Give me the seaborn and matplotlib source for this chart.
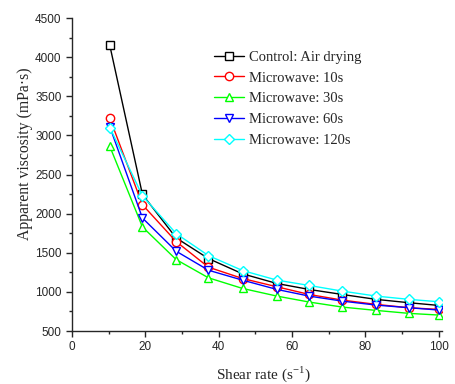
import numpy as np
import pandas as pd
import matplotlib
matplotlib.use("Agg")
import matplotlib.pyplot as plt
from matplotlib.ticker import MultipleLocator
import seaborn as sns

# Shear rate (1/s)
shear_rate = [10.3, 19.2, 28.4, 37.2, 46.5, 55.9, 64.7, 73.7, 83.0, 92.0, 100.0]

# Apparent viscosity (mPa.s)
control = [4150, 2245, 1690, 1426, 1231, 1107, 1031, 967, 904, 861, 827]
mw_10s = [3220, 2114, 1643, 1316, 1171, 1065, 967, 895, 840, 797, 776]
mw_30s = [2860, 1830, 1413, 1180, 1044, 946, 870, 806, 763, 725, 704]
mw_60s = [3110, 1944, 1520, 1277, 1150, 1031, 946, 882, 831, 797, 768]
mw_120s = [3100, 2229, 1745, 1464, 1273, 1150, 1082, 1010, 946, 904, 874]

labels = ["Control: Air drying", "Microwave: 10s", "Microwave: 30s",
          "Microwave: 60s", "Microwave: 120s"]
series = [control, mw_10s, mw_30s, mw_60s, mw_120s]
colors = ["black", "red", "#00ff00", "blue", "cyan"]
markers = ["s", "o", "^", "v", "D"]

sns.set_style("ticks")

fig = plt.figure(figsize=(4.56, 3.84), dpi=100)
ax = fig.add_axes([0.158, 0.138, 0.812, 0.815])

for lab, vals, c, m in zip(labels, series, colors, markers):
    df = pd.DataFrame({"shear": shear_rate, "visc": vals})
    sns.lineplot(data=df, x="shear", y="visc", ax=ax, color=c, marker=m,
                 markersize=6 if m != "D" else 5.5, markerfacecolor="white",
                 markeredgecolor=c, markeredgewidth=1.0, linewidth=1.0,
                 label=lab)

ax.set_xlim(0, 101)
ax.set_ylim(500, 4500)
ax.xaxis.set_major_locator(MultipleLocator(20))
ax.xaxis.set_minor_locator(MultipleLocator(10))
ax.yaxis.set_major_locator(MultipleLocator(500))
ax.yaxis.set_minor_locator(MultipleLocator(250))
ax.tick_params(which="major", direction="out", length=4, width=1, labelsize=8.5)
ax.tick_params(which="minor", direction="out", length=2.5, width=1)
for t in ax.get_xticklabels() + ax.get_yticklabels():
    t.set_family("Liberation Sans")
for s in ["left", "bottom"]:
    ax.spines[s].set_linewidth(1.0)
sns.despine(ax=ax)

ax.set_xlabel("Shear rate (s$^{\\mathregular{-1}}$)", family="Liberation Serif", fontsize=11)
ax.set_ylabel("Apparent viscosity (mPa·s)", family="Liberation Serif", fontsize=11.3)
ax.xaxis.set_label_coords(0.516, -0.105)
ax.yaxis.set_label_coords(-0.105, 0.567)

leg = ax.legend(loc="upper left", bbox_to_anchor=(0.383, 0.896), frameon=False,
                prop={"family": "Liberation Serif", "size": 10.5},
                handlelength=2.05, handletextpad=0.35, labelspacing=0.52,
                borderaxespad=0, borderpad=0)

fig.savefig("out.png", dpi=100)
